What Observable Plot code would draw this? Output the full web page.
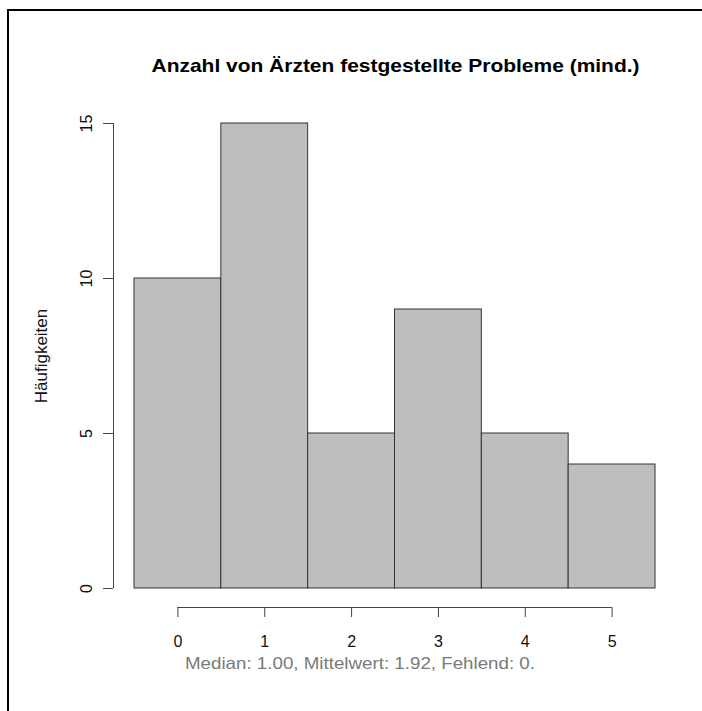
<!DOCTYPE html>
<html>
<head>
<meta charset="utf-8">
<script src="https://cdn.jsdelivr.net/npm/d3@7"></script>
<script src="https://cdn.jsdelivr.net/npm/@observablehq/plot@0.6"></script>
<style>
  html, body { margin: 0; padding: 0; background: #fff; }
  #wrap { position: relative; width: 702px; height: 711px; overflow: hidden; }
  #frame { position: absolute; left: 7px; top: 9px; width: 800px; height: 800px;
           border-left: 2px solid #000; border-top: 2px solid #000; box-sizing: border-box; pointer-events: none; }
  #wrap svg { position: absolute; left: 0; top: 0; }
</style>
</head>
<body>
<div id="wrap"><div id="frame"></div></div>
<script>
const categories = [0, 1, 2, 3, 4, 5];
const counts = [10, 15, 5, 9, 5, 4];
const yTicks = [0, 5, 10, 15];
const titleText = "Anzahl von Ärzten festgestellte Probleme (mind.)";
const yLabel = "Häufigkeiten";
const captionText = "Median: 1.00, Mittelwert: 1.92, Fehlend: 0.";

const bins = categories.map((c, i) => ({x1: c - 0.5, x2: c + 0.5, y: counts[i]}));

const chart = Plot.plot({
  width: 702,
  height: 711,
  marginLeft: 134,
  marginRight: 47,
  marginTop: 123,
  marginBottom: 123,
  style: {fontFamily: "'Liberation Sans', Arial, sans-serif", background: "transparent", color: "#111"},
  x: {domain: [-0.5, 5.5]},
  y: {domain: [0, 15]},
  marks: [
    Plot.rectY(bins, {x1: "x1", x2: "x2", y: "y", fill: "#bebebe", stroke: "#333", strokeWidth: 1}),
    Plot.ruleX([-0.5], {y1: 0, y2: 15, dx: -21, stroke: "#444"}),
    Plot.ruleY([0], {x1: 0, x2: 5, dy: 19, stroke: "#444"}),
    Plot.axisY({ticks: yTicks, tickSize: 10, tickRotate: -90, tickPadding: 12, dx: -21, label: null,
                fontSize: 16, stroke: "#444", tickFormat: d => String(d)}),
    Plot.axisX({ticks: categories, tickSize: 10, tickPadding: 18, dy: 19, label: null,
                fontSize: 16, stroke: "#444", tickFormat: d => String(d)}),
    Plot.text([titleText], {frameAnchor: "top", lineAnchor: "middle", textAnchor: "middle", dy: -57, dx: 0.5,
                            fontSize: 18.5, fontWeight: "bold", fill: "#000"}),
    Plot.text([yLabel], {frameAnchor: "left", textAnchor: "middle", lineAnchor: "middle", rotate: -90, dx: -93,
                         fontSize: 17, fill: "#111"}),
    Plot.text([captionText], {frameAnchor: "bottom", lineAnchor: "middle", textAnchor: "middle", dy: 75, dx: -35,
                              fontSize: 16.5, fill: "#7a7a7a"})
  ]
});
// R-like horizontally wider glyph rendering for title and caption
d3.select(chart).selectAll("text").each(function() {
  const t = this.textContent;
  if (t === titleText) { this.setAttribute("textLength", 488); this.setAttribute("lengthAdjust", "spacingAndGlyphs"); }
  if (t === captionText) { this.setAttribute("textLength", 350); this.setAttribute("lengthAdjust", "spacingAndGlyphs"); }
});
document.getElementById("wrap").appendChild(chart);
</script>
</body>
</html>
